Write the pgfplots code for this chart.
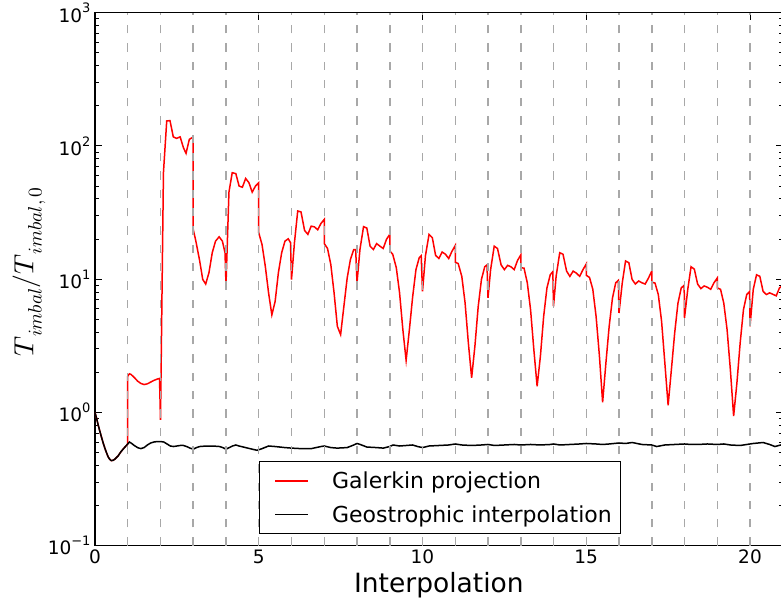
\documentclass[border=0pt]{standalone}
\usepackage{graphicx}
\usepackage{fontspec}
\setmainfont{DejaVu Sans}
\usepackage{pgfplots}
\usepackage{pgfplotstable}
\pgfplotsset{compat=1.18}

\definecolor{guide}{RGB}{168,168,168}

% power-of-ten tick labels set in the text font
\newcommand\pw[1]{10\raisebox{0.5em}{\fontsize{13bp}{14bp}\selectfont #1}}
% math symbol followed by a lowered, smaller subscript
\newcommand\bigsym[1]{\scalebox{2.78}{$#1$}}
\newcommand\lowsub[1]{\raisebox{-8.4bp}{\scalebox{1.95}{$#1$}}}

% Galerkin projection: imbalance ratio per interpolation step
\pgfplotstableread{
x y
0.00 1.00
0.05 0.90
0.10 0.80
0.15 0.72
0.20 0.65
0.25 0.59
0.30 0.54
0.35 0.50
0.40 0.465
0.45 0.445
0.50 0.435
0.55 0.437
0.60 0.445
0.70 0.47
0.80 0.51
0.90 0.545
1.00 0.58
1.00 1.87
1.05 1.95
1.10 1.93
1.20 1.83
1.30 1.72
1.40 1.65
1.50 1.62
1.60 1.64
1.70 1.69
1.80 1.74
1.90 1.78
1.97 1.80
2.00 0.88
2.09 63
2.19 154
2.29 155
2.39 117
2.49 114
2.60 117
2.70 97
2.78 88
2.88 112
2.98 116
3.00 116
3.00 23.6
3.08 19.3
3.19 14.0
3.29 9.96
3.38 9.2
3.48 11.2
3.58 15.8
3.68 19.3
3.79 20.8
3.89 19.3
3.97 15.8
4.00 9.1
4.09 45
4.19 63
4.30 62
4.40 50
4.50 49
4.60 57
4.70 53
4.80 45
4.90 50
5.00 53
5.00 22.3
5.10 18.2
5.20 12.5
5.30 7.9
5.40 5.4
5.50 6.8
5.60 11.2
5.70 15.8
5.80 19.3
5.90 20.1
5.97 18.8
6.00 9.95
6.09 18.8
6.19 32.5
6.29 32.0
6.40 23.2
6.50 21.7
6.60 25.0
6.70 24.7
6.80 23.5
6.90 26.2
7.00 28.1
7.00 18.5
7.10 17.0
7.20 12.9
7.30 7.9
7.40 4.43
7.50 3.84
7.60 6.27
7.70 10.2
7.80 14.1
7.90 16.7
7.96 16.7
8.00 9.4
8.09 16.7
8.20 24.8
8.30 24.2
8.40 17.7
8.50 16.7
8.60 18.5
8.70 17.7
8.80 17.0
8.90 19.9
9.00 21.7
9.00 16.3
9.09 15.4
9.20 12.2
9.30 7.9
9.40 4.19
9.50 2.46
9.60 4.19
9.70 7.4
9.80 11.8
9.90 14.5
9.96 15.0
10.00 8.1
10.09 15.0
10.20 21.7
10.30 20.5
10.40 15.1
10.50 14.3
10.60 16.0
10.70 15.4
10.80 14.3
10.90 16.2
11.00 17.9
11.00 13.4
11.09 13.1
11.20 10.5
11.30 6.65
11.40 3.33
11.50 1.82
11.60 3.14
11.70 6.2
11.80 9.96
11.90 12.4
11.97 12.8
12.00 7.25
12.08 11.8
12.19 17.7
12.29 17.0
12.40 12.8
12.50 11.8
12.60 12.7
12.70 12.4
12.80 11.8
12.90 13.8
13.00 15.2
13.00 12.2
13.10 12.1
13.20 9.4
13.30 5.9
13.40 2.96
13.50 1.57
13.60 2.64
13.70 5.27
13.80 8.6
13.90 10.8
13.98 11.4
14.00 6.27
14.08 10.5
14.19 15.8
14.29 15.4
14.40 11.5
14.50 10.5
14.60 11.5
14.70 11.1
14.80 10.5
14.90 11.8
15.00 13.0
15.00 10.7
15.10 10.3
15.20 8.4
15.30 5.27
15.40 2.7
15.50 1.19
15.60 2.35
15.70 4.43
15.80 7.2
15.90 9.4
15.98 9.8
16.00 5.58
16.10 9.4
16.20 13.7
16.30 13.3
16.40 9.96
16.50 9.2
16.60 9.7
16.70 9.4
16.80 9.2
16.90 10.2
17.00 11.5
17.00 9.5
17.10 9.35
17.20 7.67
17.30 4.84
17.40 2.35
17.50 1.13
17.60 2.1
17.70 3.95
17.80 6.6
17.90 8.6
17.99 9.0
18.00 5.13
18.10 8.4
18.20 12.4
18.30 11.9
18.40 9.2
18.50 8.5
18.60 8.9
18.70 8.7
18.80 8.4
18.90 9.4
19.00 10.2
19.00 8.6
19.10 8.4
19.20 6.6
19.30 4.19
19.40 2.1
19.50 0.94
19.60 1.66
19.70 3.33
19.80 5.9
19.90 7.67
19.99 8.1
20.00 4.43
20.10 8.4
20.20 10.8
20.30 10.5
20.40 8.1
20.50 7.67
20.60 7.9
20.70 7.7
20.80 7.5
20.90 8.6
21.00 9.0
}\galerkin

% Geostrophic interpolation
\pgfplotstableread{
x y
0.00 1.00
0.05 0.90
0.10 0.80
0.15 0.72
0.20 0.65
0.25 0.59
0.30 0.54
0.35 0.50
0.40 0.465
0.45 0.445
0.50 0.435
0.55 0.437
0.60 0.445
0.70 0.47
0.80 0.51
0.90 0.545
1.00 0.58
1.05 0.60
1.10 0.59
1.20 0.565
1.30 0.545
1.40 0.535
1.50 0.545
1.60 0.57
1.70 0.59
1.80 0.60
1.90 0.605
2.00 0.605
2.10 0.60
2.20 0.58
2.30 0.56
2.40 0.555
2.50 0.56
2.60 0.565
2.70 0.565
2.80 0.555
2.90 0.54
3.00 0.53
3.10 0.545
3.20 0.555
3.40 0.56
3.60 0.56
3.80 0.555
3.90 0.545
4.00 0.53
4.10 0.545
4.20 0.56
4.30 0.57
4.40 0.56
4.60 0.545
4.80 0.53
4.95 0.52
5.10 0.535
5.30 0.56
5.50 0.555
5.80 0.545
6.00 0.54
6.30 0.535
6.60 0.535
6.90 0.555
7.00 0.56
7.20 0.545
7.40 0.54
7.70 0.545
7.90 0.57
8.00 0.585
8.10 0.575
8.30 0.55
8.60 0.545
8.80 0.54
9.00 0.555
9.10 0.57
9.30 0.56
9.50 0.565
9.70 0.57
9.85 0.555
10.00 0.545
10.20 0.56
10.50 0.565
10.80 0.57
11.00 0.58
11.20 0.57
11.50 0.565
11.80 0.57
12.00 0.575
12.20 0.565
12.50 0.57
12.80 0.575
13.00 0.57
13.30 0.575
13.60 0.57
13.90 0.575
14.00 0.58
14.20 0.57
14.50 0.575
14.80 0.58
15.00 0.585
15.30 0.58
15.50 0.575
15.70 0.58
16.00 0.59
16.20 0.585
16.40 0.595
16.70 0.575
17.00 0.57
17.15 0.555
17.40 0.57
17.70 0.575
18.00 0.58
18.20 0.575
18.40 0.575
18.70 0.58
19.00 0.575
19.20 0.58
19.40 0.57
19.70 0.565
19.90 0.575
20.10 0.585
20.40 0.595
20.60 0.575
20.76 0.555
21.00 0.575
}\geostrophic

\begin{document}
\begin{tikzpicture}
\begin{axis}[
  at={(0,0)}, anchor=south west,
  scale only axis, width=687.75bp, height=533bp,
  xmin=0, xmax=21,
  ymode=log, ymin=0.1, ymax=1000,
  xtick={0,5,10,15,20},
  ytick={0.1,1,10,100,1000},
  yticklabels={\pw{−1},\pw{0},\pw{1},\pw{2},\pw{3}},
  tick pos=both, xticklabel pos=lower, yticklabel pos=left,
  tick align=inside,
  major tick length=7bp, minor tick length=4bp,
  every tick/.style={black, line width=1bp},
  axis line style={line width=1.4bp},
  /pgf/number format/assume math mode=true,
  tick label style={font=\fontsize{18.5bp}{22bp}\selectfont},
  xticklabel style={yshift=-1bp},
  yticklabel style={xshift=-1bp},
  xlabel={Interpolation},
  xlabel style={font=\fontsize{26.5bp}{30bp}\selectfont,
    at={(axis description cs:0.5,-0.0869)}, anchor=base},
  ylabel={\bigsym{T}\lowsub{imbal}\bigsym{/T}\lowsub{imbal,0}},
  ylabel style={at={(axis description cs:-0.096,0.513)}, anchor=center},
  legend cell align=left,
  legend image code/.code={
    \draw[#1, line width=1.5bp] (15bp,0bp) -- (48bp,0bp);
    \path (0bp,-16bp) (71bp,16bp);
  },
  legend style={
    at={(0.2385,0.0214)}, anchor=south west,
    draw=black, line width=1.2bp, fill=white,
    inner xsep=0bp, inner ysep=2.5bp,
    row sep=0bp,
    nodes={inner sep=0bp},
    font=\fontsize{22bp}{26bp}\selectfont,
  },
]
\addplot[red, line width=1.5bp] table {\galerkin};
\addlegendentry{Galerkin projection}
\addplot[black, line width=1.5bp] table {\geostrophic};
\addlegendentry{Geostrophic interpolation\hspace*{9bp}}
% interpolation step boundaries
\pgfplotsinvokeforeach{1,...,20}{
  \draw[guide, line width=1.5bp, dash pattern=on 8.3bp off 10bp]
    (axis cs:#1,0.1) -- (axis cs:#1,1000);
}
\end{axis}
\pgfresetboundingbox
\useasboundingbox (-95bp,-58.3bp) rectangle (686bp,545.7bp);
\end{tikzpicture}
\end{document}
